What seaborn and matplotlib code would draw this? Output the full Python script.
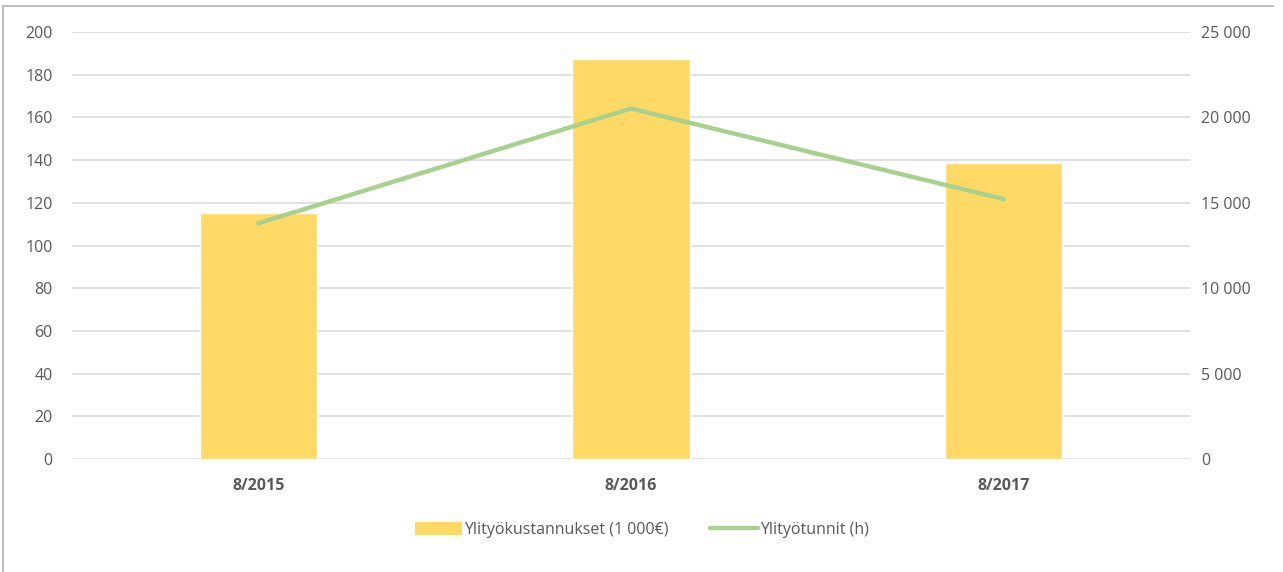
import numpy as np
import pandas as pd
import matplotlib
matplotlib.use("Agg")
import matplotlib.pyplot as plt
from matplotlib.lines import Line2D
from matplotlib.patches import Patch
from matplotlib.ticker import FuncFormatter
import seaborn as sns

# data
periods = ["8/2015", "8/2016", "8/2017"]
costs_keur = [115.3, 187.4, 138.8]          # Ylityökustannukset (1 000€)
hours = [13800, 20520, 15220]               # Ylityötunnit (h)

bar_label = "Ylityökustannukset (1 000€)"
line_label = "Ylityötunnit (h)"

BAR_COLOR = "#ffd966"
LINE_COLOR = "#a9d18e"
TEXT_COLOR = "#595959"
GRID_COLOR = "#d9d9d9"

sns.set_theme(style="white")
plt.rcParams["font.family"] = ["Open Sans", "DejaVu Sans"]

df = pd.DataFrame({"period": periods, "cost": costs_keur, "hours": hours})

fig = plt.figure(figsize=(12.83, 5.72), dpi=100)
ax = fig.add_axes([0.0561, 0.1976, 0.8714, 0.7464])

sns.barplot(data=df, x="period", y="cost", color=BAR_COLOR, saturation=1,
            width=0.315, ax=ax)
ax.set_ylim(0, 200)
ax.set_yticks(np.arange(0, 201, 20))
ax.set_xlim(-0.5, len(periods) - 0.5)
ax.grid(axis="y", color=GRID_COLOR, linewidth=1.1)
ax.set_axisbelow(True)
ax.set_xlabel("")
ax.set_ylabel("")
ax.tick_params(axis="y", length=0, labelsize=11.5, labelcolor=TEXT_COLOR, pad=14)
ax.tick_params(axis="x", length=0, labelsize=11.5, labelcolor=TEXT_COLOR, pad=14)
for lbl in ax.get_xticklabels():
    lbl.set_fontweight("bold")
for s in ax.spines.values():
    s.set_visible(False)

ax2 = ax.twinx()
sns.lineplot(x=np.arange(len(periods)), y=df["hours"], color=LINE_COLOR,
             linewidth=3.2, ax=ax2, legend=False)
ax2.set_ylim(0, 25000)
ax2.set_yticks(np.arange(0, 25001, 5000))
ax2.yaxis.set_major_formatter(FuncFormatter(lambda v, p: f"{int(v):,}".replace(",", " ")))
ax2.set_ylabel("")
ax2.tick_params(axis="y", length=0, labelsize=11.5, labelcolor=TEXT_COLOR, pad=8)
for s in ax2.spines.values():
    s.set_visible(False)
ax2.set_xlim(-0.5, len(periods) - 0.5)

handles = [Patch(facecolor=BAR_COLOR, edgecolor="none"),
           Line2D([0], [0], color=LINE_COLOR, linewidth=3.2)]
fig.legend(handles, [bar_label, line_label], loc="center", bbox_to_anchor=(0.5, 0.073),
           ncol=2, frameon=False, fontsize=11.5, labelcolor=TEXT_COLOR,
           handlelength=3.0, handletextpad=0.1, columnspacing=2.6, handleheight=0.9)

# chart area border (top and left visible in the reference)
fig.add_artist(Line2D([3 / 1283, 3 / 1283], [0, 1 - 6 / 572], transform=fig.transFigure,
                      color="#bfbfbf", linewidth=1.5))
fig.add_artist(Line2D([3 / 1283, 1273 / 1283], [1 - 6 / 572, 1 - 6 / 572],
                      transform=fig.transFigure, color="#bfbfbf", linewidth=1.5))

fig.savefig("out.png", dpi=100, facecolor="white")
